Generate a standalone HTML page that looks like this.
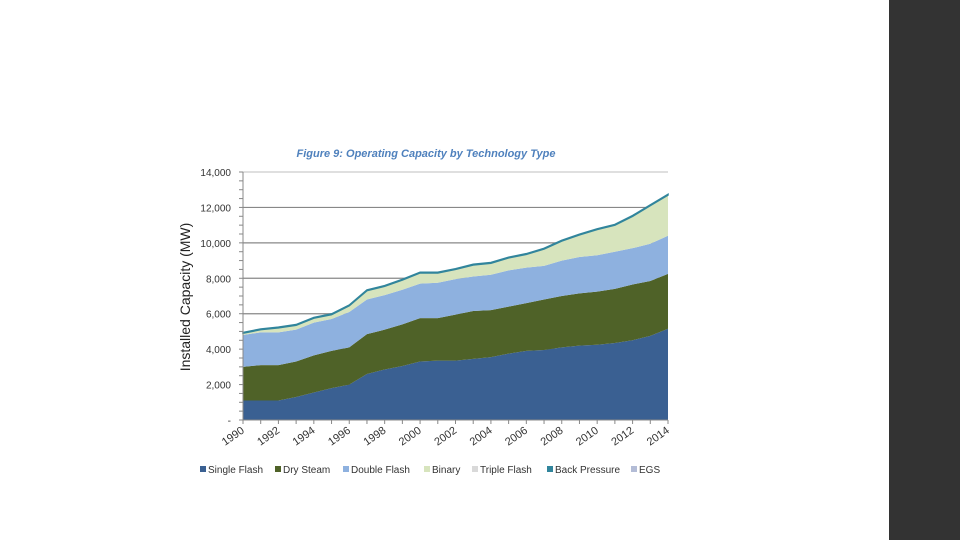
<!DOCTYPE html>
<html><head><meta charset="utf-8"><style>
html,body{margin:0;padding:0;background:#fff;width:960px;height:540px;overflow:hidden;font-family:"Liberation Sans",sans-serif}
#panel{position:absolute;left:889px;top:0;width:71px;height:540px;background:#333}
</style></head><body>
<div id="panel"></div>
<svg id="chart" width="960" height="540" style="position:absolute;left:0;top:0"></svg>
<script>
const years=[1990,1991,1992,1993,1994,1995,1996,1997,1998,1999,2000,2001,2002,2003,2004,2005,2006,2007,2008,2009,2010,2011,2012,2013,2014];
const singleFlash=[1100,1100,1100,1300,1550,1800,2000,2600,2850,3050,3300,3350,3350,3450,3550,3750,3900,3950,4100,4200,4250,4350,4500,4750,5150];
const drySteam=[1900,2000,2000,2000,2100,2100,2100,2250,2250,2350,2450,2400,2600,2700,2650,2650,2700,2850,2900,2950,3000,3050,3150,3100,3100];
const doubleFlash=[1800,1850,1850,1800,1850,1800,2000,1950,1950,1950,1950,2000,2000,1950,2000,2050,2000,1900,2000,2050,2050,2100,2050,2100,2150];
const binary=[100,150,250,250,250,250,350,500,500,550,600,550,550,650,650,700,750,950,1100,1250,1450,1500,1800,2150,2300];
const tripleFlash=[0,0,0,0,0,0,0,0,0,0,0,0,0,0,0,0,0,0,0,0,0,0,0,0,0];
const backPressure=[40,40,40,40,40,40,40,40,40,40,40,40,40,40,40,40,40,40,40,40,40,40,40,40,40];
const egs=[0,0,0,0,0,0,0,0,0,0,0,0,0,0,0,0,0,0,0,0,0,0,0,0,0];
const yTicks=[0,2000,4000,6000,8000,10000,12000,14000];
const yTickLabels=["-","2,000","4,000","6,000","8,000","10,000","12,000","14,000"];
const xLabelYears=[1990,1992,1994,1996,1998,2000,2002,2004,2006,2008,2010,2012,2014];

const svg=document.getElementById('chart');
const NS='http://www.w3.org/2000/svg';
const X0=243,X1=668,Y0=420,Y1=172;
const x=i=>X0+(X1-X0)*(i/(years.length-1));
const xy=yr=>X0+(X1-X0)*((yr-years[0])/(years[years.length-1]-years[0]));
const y=v=>Y0-(Y0-Y1)*v/14000;
function mk(t,a,parent){const e=document.createElementNS(NS,t);for(const k in a)e.setAttribute(k,a[k]);(parent||svg).appendChild(e);return e;}

// grid
yTicks.forEach((v,i)=>{
  if(v>0){const g=mk('line',{x1:X0,x2:X1,y1:y(v),y2:y(v),stroke:i==yTicks.length-1?'#ccc':'#888','stroke-width':1.2});
  
  }
  const t=mk('text',{x:231,y:y(v)+4,'text-anchor':'end','font-size':10,fill:'#333'});
  t.textContent=yTickLabels[i];
  
  
});
// minor ticks on y axis
for(let v=0;v<=14000;v+=500){mk('line',{x1:X0-4,x2:X0,y1:y(v),y2:y(v),stroke:'#888','stroke-width':1});}

const series=[
 ['single-flash',singleFlash,'#3a6092'],
 ['dry-steam',drySteam,'#4f6228'],
 ['double-flash',doubleFlash,'#8eb1df'],
 ['binary',binary,'#d7e4bd'],
 ['triple-flash',tripleFlash,'#d9d9d9'],
 ['back-pressure',backPressure,'#31859c'],
 ['egs',egs,'#b3bcd6']
];
let base=years.map(()=>0);
series.forEach(([name,vals,col])=>{
  const top=base.map((b,i)=>b+vals[i]);
  let d='M'+years.map((_,i)=>x(i)+','+y(top[i])).join(' L');
  for(let i=years.length-1;i>=0;i--)d+=' L'+x(i)+','+y(base[i]);
  const p=mk('path',{d:d+'Z',fill:col,stroke:name==='back-pressure'?col:'none','stroke-width':name==='back-pressure'?1.5:0});
  
  
  base=top;
});
// x axis
const ax=mk('line',{x1:X0,x2:X1,y1:Y0,y2:Y0,stroke:'#888','stroke-width':1});


mk('line',{x1:X0,x2:X0,y1:Y1,y2:Y0,stroke:'#888','stroke-width':1});
years.forEach((yr,i)=>mk('line',{x1:x(i),x2:x(i),y1:Y0,y2:Y0+4,stroke:'#888'}));
xLabelYears.forEach(yr=>{
  const px=xy(yr);
  const t=mk('text',{x:px+2,y:Y0+12,'text-anchor':'end','font-size':11,fill:'#333',transform:`rotate(-35 ${px+2} ${Y0+12})`});
  t.textContent=yr;
  
  
});
// title
const ti=mk('text',{x:426,y:157,'text-anchor':'middle','font-size':11,'font-weight':'bold','font-style':'italic',fill:'#4f81bd'});
ti.textContent='Figure 9: Operating Capacity by Technology Type';


const yt=mk('text',{x:190,y:297,'text-anchor':'middle','font-size':14,fill:'#222',transform:'rotate(-90 190 297)'});
yt.textContent='Installed Capacity (MW)';


// legend
const legend=[['Single Flash','#3a6092',200],['Dry Steam','#4f6228',275],['Double Flash','#8eb1df',343],['Binary','#d7e4bd',424],['Triple Flash','#d9d9d9',472],['Back Pressure','#31859c',547],['EGS','#b3bcd6',631]];
legend.forEach(([lab,col,lx])=>{
  const g=mk('g',{});
  
  
  mk('rect',{x:lx,y:466,width:6,height:6,fill:col},g);
  const t=mk('text',{x:lx+8,y:473,'font-size':10,fill:'#333'},g);
  t.textContent=lab;
});
</script>
</body></html>
